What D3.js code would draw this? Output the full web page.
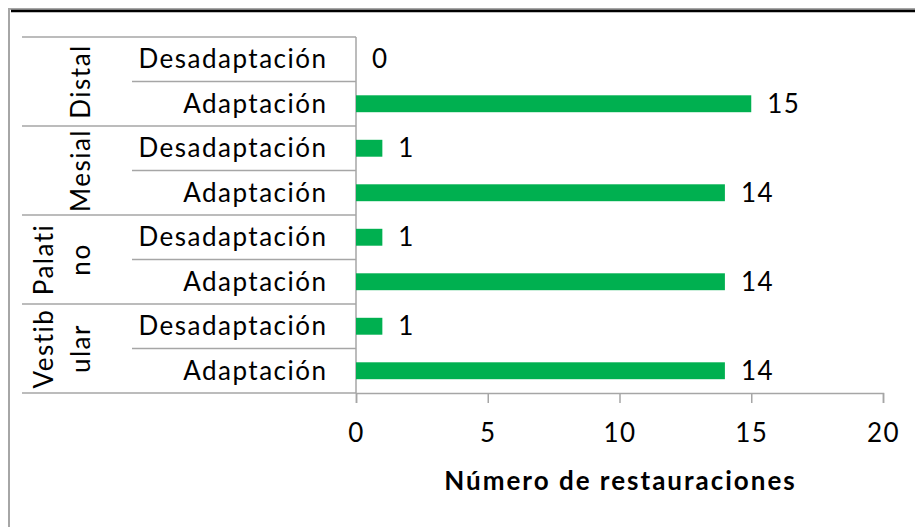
<!DOCTYPE html>
<html lang="es">
<head>
<meta charset="utf-8">
<title>Número de restauraciones</title>
<script src="https://d3js.org/d3.v7.min.js"></script>
<style>
  body { margin: 0; background: #fff; }
  text { font-family: Lato, "Open Sans", sans-serif; fill: #000; }
</style>
</head>
<body>
<script>
// data
var groups = ["Distal", "Mesial", "Palatino", "Vestibular"];
var groupLines = [["Distal"], ["Mesial"], ["Palati", "no"], ["Vestib", "ular"]];
var categories = ["Desadaptación", "Adaptación"];
var desadaptacion = [0, 1, 1, 1];
var adaptacion = [15, 14, 14, 14];
var xTicks = [0, 5, 10, 15, 20];
var axisTitle = "Número de restauraciones";

var width = 915, height = 527;
var plotLeft = 356, plotRight = 883, plotTop = 37, plotBottom = 393;
var fontSize = 26;
var spacing = 1.5;

var rows = [];
groups.forEach(function(g, i) {
  rows.push({ group: g, cat: categories[0], value: desadaptacion[i], id: g + "|" + categories[0] });
  rows.push({ group: g, cat: categories[1], value: adaptacion[i], id: g + "|" + categories[1] });
});

var svg = d3.select("body").append("svg")
  .attr("width", width)
  .attr("height", height);

// outer frame
svg.append("rect")
  .attr("x", 9).attr("y", 9)
  .attr("width", width).attr("height", height)
  .attr("fill", "none")
  .attr("stroke", "#a6a6a6")
  .attr("stroke-width", 2);
svg.append("line")
  .attr("x1", 11).attr("x2", width)
  .attr("y1", 11).attr("y2", 11)
  .attr("stroke", "#000")
  .attr("stroke-width", 2.5);

var x = d3.scaleLinear().domain([0, 20]).range([plotLeft, plotRight]);
var y = d3.scaleBand().domain(rows.map(function(d) { return d.id; }))
  .range([plotTop, plotBottom]).paddingInner(0.62).paddingOuter(0.31);
var yRow = d3.scaleBand().domain(rows.map(function(d) { return d.id; }))
  .range([plotTop, plotBottom]);
var yGroup = d3.scaleBand().domain(groups).range([plotTop, plotBottom]);

// separators
svg.append("g").selectAll("line")
  .data(groups)
  .enter().append("line")
  .attr("x1", 22).attr("x2", plotLeft)
  .attr("y1", function(d) { return yGroup(d); })
  .attr("y2", function(d) { return yGroup(d); })
  .attr("stroke", "#a6a6a6").attr("stroke-width", 1.5);
svg.append("line")
  .attr("x1", 22).attr("x2", plotLeft)
  .attr("y1", plotBottom).attr("y2", plotBottom)
  .attr("stroke", "#a6a6a6").attr("stroke-width", 1.5);
svg.append("g").selectAll("line")
  .data(rows.filter(function(d) { return d.cat === categories[1]; }))
  .enter().append("line")
  .attr("x1", 132).attr("x2", plotLeft)
  .attr("y1", function(d) { return yRow(d.id); })
  .attr("y2", function(d) { return yRow(d.id); })
  .attr("stroke", "#a6a6a6").attr("stroke-width", 1.5);

// x axis
var xAxis = svg.append("g")
  .attr("transform", "translate(0," + plotBottom + ")")
  .call(d3.axisBottom(x).tickValues(xTicks).tickSize(10).tickPadding(21));
xAxis.select(".domain").attr("stroke", "#a6a6a6").attr("stroke-width", 1.5);
xAxis.selectAll(".tick line").attr("stroke", "#a6a6a6").attr("stroke-width", 1.5);
xAxis.selectAll(".tick text")
  .attr("font-size", fontSize)
  .attr("letter-spacing", spacing)
  .attr("fill", "#000");

// y axis line
svg.append("line")
  .attr("x1", plotLeft).attr("x2", plotLeft)
  .attr("y1", plotTop).attr("y2", plotBottom)
  .attr("stroke", "#a6a6a6").attr("stroke-width", 1.5);

// bars
svg.append("g").selectAll("rect")
  .data(rows)
  .enter().append("rect")
  .attr("x", x(0))
  .attr("y", function(d) { return y(d.id); })
  .attr("width", function(d) { return x(d.value) - x(0); })
  .attr("height", y.bandwidth())
  .attr("fill", "#00b050");

// value labels
svg.append("g").selectAll("text")
  .data(rows)
  .enter().append("text")
  .attr("x", function(d) { return x(d.value) + 16; })
  .attr("y", function(d) { return yRow(d.id) + yRow.bandwidth() / 2 + 9; })
  .attr("font-size", fontSize)
  .attr("letter-spacing", spacing)
  .text(function(d) { return d.value; });

// category labels
svg.append("g").selectAll("text")
  .data(rows)
  .enter().append("text")
  .attr("x", 326 + spacing)
  .attr("y", function(d) { return yRow(d.id) + yRow.bandwidth() / 2 + 9; })
  .attr("text-anchor", "end")
  .attr("font-size", fontSize)
  .attr("letter-spacing", spacing)
  .text(function(d) { return d.cat; });

// group labels (rotated)
var gl = svg.append("g").selectAll("text")
  .data(groups)
  .enter().append("text")
  .attr("transform", function(d) {
    var cy = yGroup(d) + yGroup.bandwidth() / 2;
    return "translate(90," + cy + ") rotate(-90)";
  })
  .attr("text-anchor", "middle")
  .attr("font-size", fontSize)
  .attr("letter-spacing", spacing);
gl.each(function(d, i) {
  var lines = groupLines[i];
  var t = d3.select(this);
  lines.forEach(function(s, j) {
    t.append("tspan")
      .attr("x", 0)
      .attr("y", -(lines.length - 1 - j) * 37)
      .text(s);
  });
});

// axis title
svg.append("text")
  .attr("x", (plotLeft + plotRight) / 2 + 1)
  .attr("y", 490)
  .attr("text-anchor", "middle")
  .attr("font-size", fontSize)
  .attr("font-weight", "bold")
  .attr("letter-spacing", 2)
  .text(axisTitle);
</script>
</body>
</html>
